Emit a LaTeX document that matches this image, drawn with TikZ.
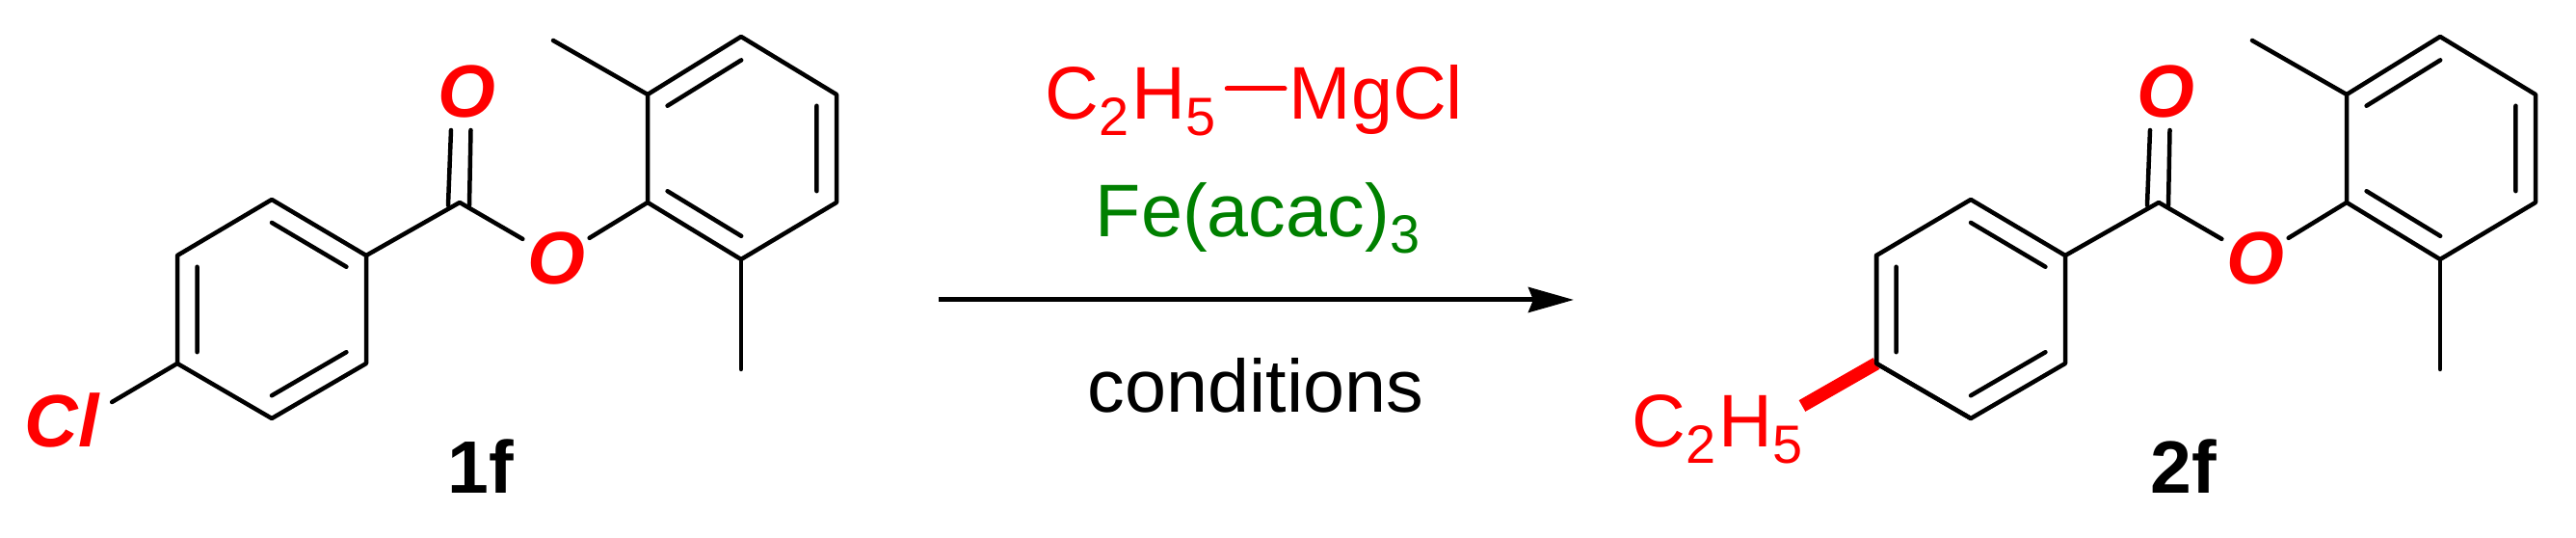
\documentclass[tikz,border=0pt]{standalone}
\usepackage{fontspec}
\setmainfont{Liberation Sans}
\usetikzlibrary{arrows.meta, calc}

\definecolor{fegreen}{RGB}{0,128,0}
\newcommand{\subnum}[1]{\raisebox{-.17cm}{\fontsize{15.9pt}{16pt}\selectfont #1}}
\newcommand{\ethyl}{C\subnum{2}\kern.03cm H\subnum{5}}
\tikzset{
  bond/.style={line width=.045cm, line cap=round, line join=round},
  atom/.style={font=\fontsize{21.9pt}{24pt}\selectfont\bfseries\itshape, text=red, inner sep=.04cm},
  compound/.style={font=\fontsize{21.9pt}{24pt}\selectfont\bfseries, inner sep=0pt, anchor=base},
  reagent/.style={inner sep=0pt, anchor=base}
}

\begin{document}
\begin{tikzpicture}[font=\fontsize{22pt}{24pt}\selectfont]
\useasboundingbox (0,0) rectangle (26.73,5.58);

% the ester is the same in both molecules
\foreach \mol/\dx in {r/0, p/17.63} {
\begin{scope}[xshift=\dx cm, name prefix=\mol-]
  \coordinate (ca) at (2.82,2.37);
  \coordinate (a1) at (2.82,3.51);
  \coordinate (a2) at (3.80,2.93);
  \coordinate (a3) at (3.80,1.81);
  \coordinate (a4) at (2.82,1.24);
  \coordinate (a5) at (1.84,1.81);
  \coordinate (a6) at (1.84,2.93);
  \coordinate (cb) at (7.70,4.04);
  \coordinate (b1) at (6.72,3.48);
  \coordinate (b2) at (6.72,4.60);
  \coordinate (b3) at (7.69,5.20);
  \coordinate (b4) at (8.68,4.60);
  \coordinate (b5) at (8.68,3.48);
  \coordinate (b6) at (7.69,2.89);
  \foreach \i in {1,...,6} {
    \coordinate (ia\i) at ($(a\i)!.21!(ca)$);
    \coordinate (ib\i) at ($(b\i)!.21!(cb)$);
  }
  \coordinate (co) at (4.77,3.48);
  \coordinate (me1) at (5.74,5.16);
  \coordinate (me2) at (7.69,1.75);
  \coordinate (dbl1) at (4.65,3.45);
  \coordinate (dbl2) at (4.68,4.23);
  \coordinate (dbl3) at (4.87,3.45);
  \coordinate (dbl4) at (4.885,4.23);
  \node[atom] (otop) at (4.84,4.63) {O};
  \node[atom] (oest) at (5.77,2.90) {O};

  \draw[bond] (a1) -- (a2) -- (a3) -- (a4) -- (a5) -- (a6) -- cycle;
  \draw[bond] (ia1) -- (ia2) (ia3) -- (ia4) (ia5) -- (ia6);
  \draw[bond] (b1) -- (b2) -- (b3) -- (b4) -- (b5) -- (b6) -- cycle;
  \draw[bond] (ib2) -- (ib3) (ib4) -- (ib5) (ib6) -- (ib1);
  \draw[bond] (a2) -- (co) -- (oest) -- (b1);
  \draw[bond] (dbl1) -- (dbl2) (dbl3) -- (dbl4);
  \draw[bond] (b2) -- (me1);
  \draw[bond] (b6) -- (me2);
\end{scope}
}

% left side groups
\node[atom, inner xsep=.13cm] (cl) at (0.64,1.22) {Cl};
\draw[bond] (r-a5) -- (cl.20);
\node[reagent, anchor=base west, text=red] (ethyl) at (16.93,0.94) {\ethyl};
\coordinate (wedge) at (18.70,1.37);
\draw[red, line width=.135cm] (wedge) -- (p-a5);
\draw[bond] (p-a4) -- (p-a5) -- (p-a6);

\node[compound] (lbl1) at (4.99,0.46) {1f};
\node[compound] (lbl2) at (22.66,0.46) {2f};

% reaction arrow
\coordinate (arrstart) at (9.74,2.47);
\coordinate (arrend) at (16.33,2.47);
\draw[line width=.05cm, -{Stealth[length=.47cm, width=.26cm, inset=.05cm]}] (arrstart) -- (arrend);

\node[reagent, anchor=base west, text=red, inner xsep=.11cm, text height=.70cm, text depth=.06cm] (etmg) at (10.73,4.34) {\ethyl};
\node[reagent, anchor=base west, text=red, inner xsep=.04cm, text height=.70cm, text depth=.06cm] (mgcl) at (13.33,4.34) {MgCl};
\draw[red, line width=.05cm, line cap=round] (etmg) -- (mgcl);
\node[reagent, text=fegreen] (fe) at (13.05,3.12) {Fe(acac)\subnum{3}};
\node[reagent] (cond) at (13.03,1.30) {conditions};
\end{tikzpicture}
\end{document}
